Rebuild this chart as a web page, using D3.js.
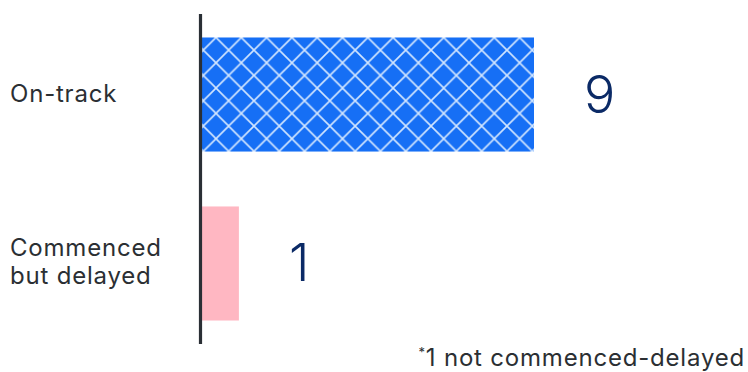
<!DOCTYPE html>
<html>
<head>
<meta charset="utf-8">
<script src="https://cdn.jsdelivr.net/npm/d3@7"></script>
<style>
  html, body { margin: 0; padding: 0; background: #ffffff; }
  svg { display: block; }
  text { font-family: "Inter", "Roboto", sans-serif; }
</style>
</head>
<body>
<svg id="chart" width="748" height="372"></svg>
<script>
// Project status counts
const categories = ["On-track", "Commenced but delayed"];
const categoryLines = [["On-track"], ["Commenced", "but delayed"]];
const values = [9, 1];
const footnote = "1 not commenced-delayed";

const width = 748, height = 372;
const svg = d3.select("#chart");

const x = d3.scaleLinear().domain([0, 9]).range([202, 534]);
const y = d3.scaleBand().domain(categories).range([14, 344])
  .paddingInner(0.325).paddingOuter(0.139);

// Cross-hatch fill for the on-track bar
const tile = 25.3;
const defs = svg.append("defs");
const pat = defs.append("pattern")
  .attr("id", "hatch")
  .attr("patternUnits", "userSpaceOnUse")
  .attr("x", 216).attr("y", y(categories[0]))
  .attr("width", tile).attr("height", tile);
pat.append("rect").attr("width", tile).attr("height", tile).attr("fill", "#166ff5");
pat.append("path")
  .attr("d", `M0,0L${tile},${tile}M${tile},0L0,${tile}`)
  .attr("stroke", "#d2e6ff").attr("stroke-width", 1.6);

const fills = ["url(#hatch)", "#ffb7c2"];

svg.append("g").selectAll("rect")
  .data(categories)
  .join("rect")
  .attr("x", x(0))
  .attr("y", d => y(d))
  .attr("width", (d, i) => x(values[i]) - x(0))
  .attr("height", y.bandwidth())
  .attr("fill", (d, i) => fills[i]);

// Vertical baseline
svg.append("line")
  .attr("x1", 200.5).attr("x2", 200.5)
  .attr("y1", y.range()[0]).attr("y2", y.range()[1])
  .attr("stroke", "#2a2f35").attr("stroke-width", 3.2);

// Category labels
svg.append("g").selectAll("text")
  .data(categories)
  .join("text")
  .attr("x", 10)
  .attr("y", d => y(d) + y.bandwidth() / 2)
  .attr("fill", "#2b2f33")
  .attr("font-size", 24)
  .attr("letter-spacing", 0.8)
  .each(function(d, i) {
    const lines = categoryLines[i];
    const lh = 28;
    const t = d3.select(this);
    lines.forEach((ln, j) => {
      t.append("tspan")
        .attr("x", 10)
        .attr("dy", j === 0 ? (7 - (lines.length - 1) * lh / 2) : lh)
        .text(ln);
    });
  });

// Value labels
svg.append("g").selectAll("text")
  .data(categories)
  .join("text")
  .attr("x", (d, i) => x(values[i]) + 50)
  .attr("y", d => y(d) + y.bandwidth() / 2 + 18)
  .attr("fill", "#0b2a66")
  .attr("font-size", 52)
  .attr("font-weight", 300)
  .text((d, i) => values[i]);

// Footnote
const fn = svg.append("text")
  .attr("x", 745).attr("y", 366)
  .attr("text-anchor", "end")
  .attr("fill", "#2b2f33")
  .attr("font-size", 24)
  .attr("letter-spacing", 0.8);
fn.append("tspan").attr("font-size", 13).attr("dy", -9).text("*");
fn.append("tspan").attr("dy", 9).text(footnote);
</script>
</body>
</html>
